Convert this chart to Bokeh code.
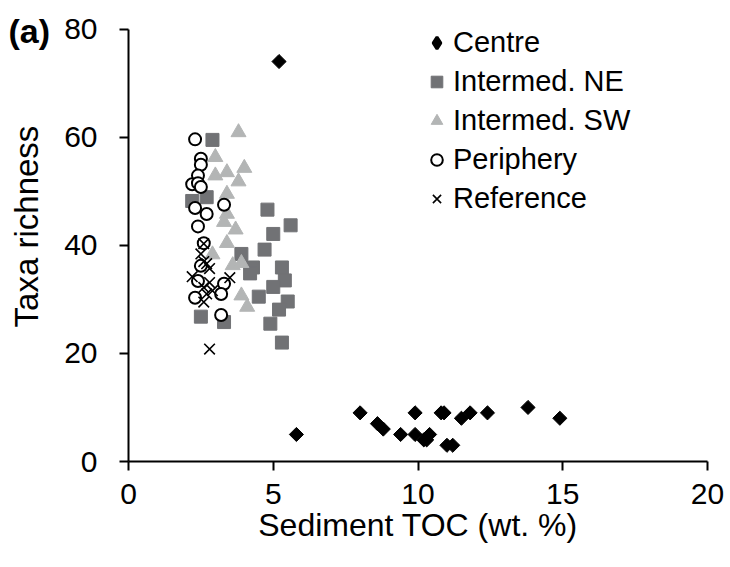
import math
from bokeh.plotting import figure
from bokeh.layouts import row
from bokeh.models import Range1d, Legend, LegendItem, Label, FixedTicker
from bokeh.embed import file_html
from bokeh.resources import INLINE

# ---- data ----
centre_x = [5.2, 5.8, 8.0, 8.6, 8.8, 9.4, 9.9, 9.9, 10.2, 10.3, 10.4, 10.8, 10.9, 11.0, 11.2, 11.5, 11.8, 12.4, 13.8, 14.9]
centre_y = [74, 5, 9, 7, 6, 5, 9, 5, 4, 4, 5, 9, 9, 3, 3, 8, 9, 9, 10, 8]

ne_x = [2.9, 2.2, 2.7, 4.8, 5.6, 5.0, 4.7, 3.9, 4.3, 4.2, 5.3, 5.4, 5.0, 4.5, 5.5, 5.2, 4.9, 5.3, 2.5, 3.3]
ne_y = [59.5, 48.2, 48.9, 46.6, 43.7, 42.1, 39.2, 38.4, 35.9, 34.8, 35.9, 33.5, 32.3, 30.5, 29.6, 28.1, 25.5, 22.0, 26.8, 25.8]

sw_x = [3.8, 3.0, 3.0, 3.4, 4.0, 3.8, 3.4, 3.4, 3.3, 3.7, 3.4, 2.9, 3.6, 3.9, 3.9, 4.1]
sw_y = [60.9, 56.3, 52.9, 53.5, 54.3, 51.8, 49.5, 45.8, 44.3, 42.9, 40.4, 38.3, 36.3, 36.7, 30.7, 28.6]

per_x = [2.3, 2.5, 2.5, 2.4, 2.2, 2.4, 2.5, 3.3, 2.3, 2.7, 2.4, 2.6, 2.5, 2.4, 3.3, 2.3, 3.2, 3.2]
per_y = [59.6, 56.0, 54.9, 52.9, 51.3, 51.5, 50.8, 47.5, 46.9, 45.8, 43.5, 40.4, 36.2, 33.4, 32.9, 30.3, 31.0, 27.1]

ref_x = [2.6, 2.6, 2.7, 2.8, 2.2, 3.5, 2.8, 2.6, 2.9, 2.7, 2.6, 2.8, 2.5]
ref_y = [40.3, 37.0, 36.6, 35.7, 34.2, 34.0, 33.1, 32.2, 31.6, 31.0, 29.5, 20.8, 38.4]

x_ticks = [0, 5, 10, 15, 20]
y_ticks = [0, 20, 40, 60, 80]

FONT = "Liberation Sans"

# ---- left strip holding the panel tag and the y-axis title ----
side = figure(width=60, height=567, output_backend="svg", toolbar_location=None,
              x_range=Range1d(0, 60), y_range=Range1d(567, 0),
              x_axis_type=None, y_axis_type=None, min_border=0)
side.outline_line_color = None
side.grid.visible = False
side.background_fill_color = "white"
side.border_fill_color = "white"
side.add_layout(Label(x=8, y=38, text="(a)", text_font=FONT, text_font_size="34px",
                      text_font_style="bold", text_color="black", text_baseline="alphabetic"))
side.add_layout(Label(x=26, y=278, text="Taxa richness", angle=math.pi / 2,
                      text_font=FONT, text_font_size="33px", text_color="black",
                      text_align="center", text_baseline="alphabetic"))

# ---- main scatter plot ----
p = figure(width=670, height=567, output_backend="svg", toolbar_location=None,
           x_range=Range1d(0, 20), y_range=Range1d(0, 80 * 461 / 432.4),
           min_border_left=68, min_border_right=23, min_border_top=0, min_border_bottom=106)
p.outline_line_color = None
p.grid.visible = False
p.background_fill_color = "white"
p.border_fill_color = "white"

for ax in (p.xaxis[0], p.yaxis[0]):
    ax.axis_line_width = 2
    ax.axis_line_color = "black"
    ax.major_tick_line_width = 2
    ax.major_tick_line_color = "black"
    ax.major_tick_in = 0
    ax.major_tick_out = 9
    ax.minor_tick_line_color = None
    ax.major_label_text_font = FONT
    ax.major_label_text_font_size = "30px"
    ax.major_label_text_color = "black"
    ax.axis_label_text_font = FONT
    ax.axis_label_text_font_size = "32px"
    ax.axis_label_text_font_style = "normal"
    ax.axis_label_text_color = "black"

p.xaxis.ticker = FixedTicker(ticks=x_ticks)
p.yaxis.ticker = FixedTicker(ticks=y_ticks)
p.yaxis.bounds = (0, 80)
p.xaxis.axis_label = "Sediment TOC (wt. %)"
p.xaxis.major_label_standoff = 13
p.xaxis.axis_label_standoff = 0
p.yaxis.major_label_standoff = 22

# diamond glyph used for the legend entry (drawn underneath the rotated squares)
r_c_leg = p.scatter(centre_x, centre_y, marker="diamond", size=8, fill_color="black",
                    line_color="black", line_width=3)
r_c = p.scatter(centre_x, centre_y, marker="square", size=10, angle=math.pi / 4,
                fill_color="black", line_color="black")
r_ne = p.scatter(ne_x, ne_y, marker="square", size=13, fill_color="#717275", line_color="#717275")
r_sw = p.scatter(sw_x, sw_y, marker="triangle", size=15, fill_color="#b3b5b5", line_color="#b3b5b5")
r_p = p.scatter(per_x, per_y, marker="circle", size=12, fill_color="white", line_color="black", line_width=2)
r_r = p.scatter(ref_x, ref_y, marker="x", size=15, line_color="black", line_width=1.6)

legend = Legend(items=[
    LegendItem(label="Centre", renderers=[r_c_leg]),
    LegendItem(label="Intermed. NE", renderers=[r_ne]),
    LegendItem(label="Intermed. SW", renderers=[r_sw]),
    LegendItem(label="Periphery", renderers=[r_p]),
    LegendItem(label="Reference", renderers=[r_r]),
], location=(294, 246), orientation="vertical")
legend.border_line_color = None
legend.background_fill_alpha = 0
legend.padding = 0
legend.margin = 0
legend.glyph_width = 29
legend.glyph_height = 29
legend.label_standoff = 2
legend.spacing = 6
legend.label_text_font = FONT
legend.label_text_font_size = "29px"
legend.label_text_color = "black"
p.add_layout(legend)

layout = row(side, p)
open("out.html", "w").write(file_html(layout, INLINE))
